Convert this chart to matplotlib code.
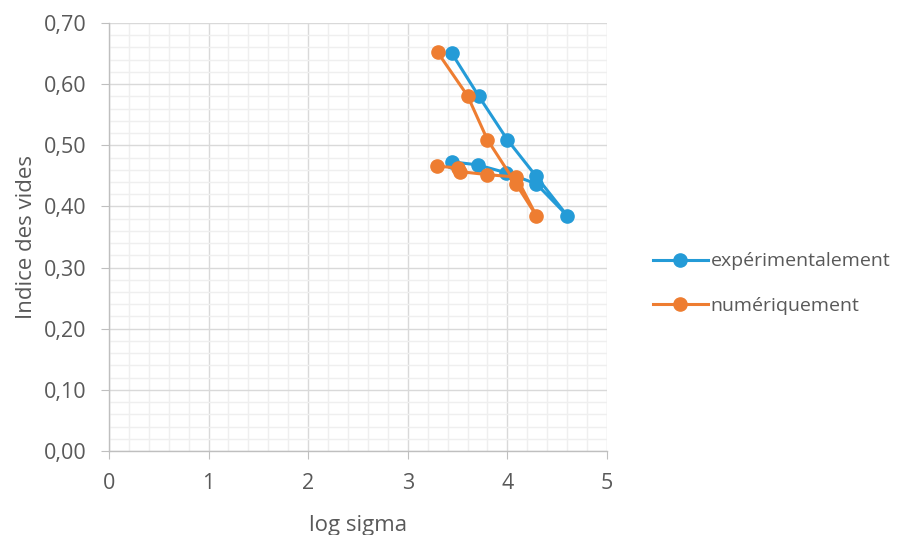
import numpy as np
import matplotlib
matplotlib.use('Agg')
import matplotlib.pyplot as plt
from matplotlib.ticker import MultipleLocator, FuncFormatter

plt.rcParams['font.family'] = ['Open Sans', 'DejaVu Sans']

# log sigma / indice des vides
exp_x = [3.44, 3.70, 3.99, 4.29, 4.60, 4.29, 4.00, 3.71, 3.44]
exp_e = [0.473, 0.468, 0.455, 0.437, 0.385, 0.449, 0.509, 0.581, 0.651]
num_x = [3.29, 3.50, 3.52, 3.80, 4.09, 4.29, 4.09, 3.80, 3.60, 3.30]
num_e = [0.466, 0.463, 0.457, 0.452, 0.448, 0.385, 0.436, 0.509, 0.581, 0.652]

blue = '#249bd7'
orange = '#ee7d31'
grey_txt = '#595959'

fig = plt.figure(figsize=(9.08, 5.35), dpi=100)
ax = fig.add_axes([0.120, 0.157, 0.5485, 0.800])

ax.plot(exp_x, exp_e, color=blue, lw=2.2, marker='o', ms=9.5,
        label='expérimentalement', zorder=3)
ax.plot(num_x, num_e, color=orange, lw=2.2, marker='o', ms=9.5,
        label='numériquement', zorder=4)

ax.set_xlim(0, 5)
ax.set_ylim(0, 0.70)
ax.xaxis.set_major_locator(MultipleLocator(1))
ax.xaxis.set_minor_locator(MultipleLocator(0.2))
ax.yaxis.set_major_locator(MultipleLocator(0.1))
ax.yaxis.set_minor_locator(MultipleLocator(0.02))
ax.yaxis.set_major_formatter(FuncFormatter(lambda v, p: f'{v:.2f}'.replace('.', ',')))

ax.grid(which='major', color='#d9d9d9', lw=1.0, zorder=0)
ax.grid(which='minor', color='#efefef', lw=1.0, zorder=0)
ax.set_axisbelow(True)

for s in ['top', 'right']:
    ax.spines[s].set_visible(False)
for s in ['left', 'bottom']:
    ax.spines[s].set_color('#bfbfbf')
    ax.spines[s].set_linewidth(1.0)

ax.tick_params(which='major', length=6, color='#bfbfbf', labelsize=15.5,
               labelcolor=grey_txt)
ax.tick_params(axis='y', pad=10)
ax.tick_params(axis='x', pad=10)
ax.tick_params(which='minor', length=0)

ax.set_xlabel('log sigma', fontsize=16, color=grey_txt, labelpad=15)
ax.set_ylabel('Indice des vides', fontsize=16, color=grey_txt, labelpad=5)

leg = fig.legend(loc='center left', bbox_to_anchor=(0.7, 0.47), frameon=False,
                 fontsize=14, handlelength=2.8, handletextpad=0.15,
                 labelspacing=1.35)
for t in leg.get_texts():
    t.set_color(grey_txt)

fig.savefig('out.png', dpi=100)
